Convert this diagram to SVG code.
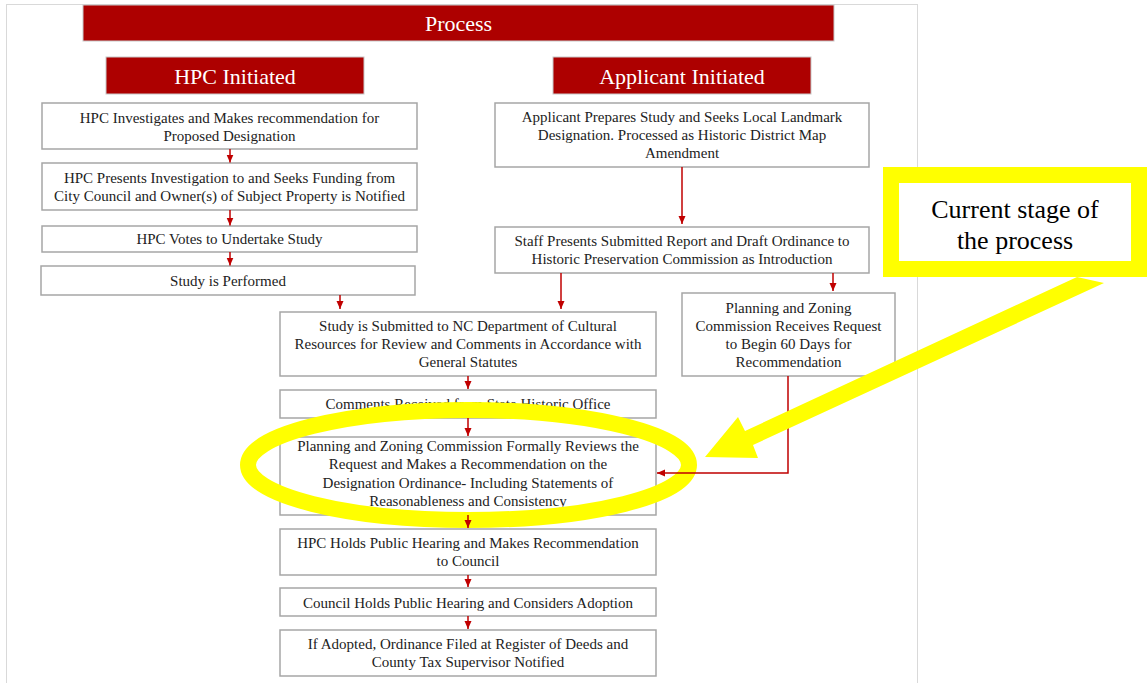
<svg xmlns="http://www.w3.org/2000/svg" width="1147" height="683" viewBox="0 0 1147 683">
<defs>
<style>
.box{fill:#fff;stroke:#a6a6a6;stroke-width:1.5}
.ban{fill:#ad0000;stroke:#c8c8c8;stroke-width:1}
.t{font-family:"Liberation Serif","Times New Roman",serif;font-size:15px;fill:#222;text-anchor:middle}
.bt{font-family:"Liberation Serif","Times New Roman",serif;font-size:22px;fill:#fff;text-anchor:middle}
.ct{font-family:"Liberation Serif","Times New Roman",serif;font-size:26px;fill:#000;text-anchor:middle}
.c{fill:none;stroke:#c00000;stroke-width:1.5}
</style>
<marker id="ah" viewBox="0 0 8 8" refX="8" refY="4" markerWidth="8" markerHeight="8" markerUnits="userSpaceOnUse" orient="auto">
<path d="M0,0.5 L8,4 L0,7.5 Z" fill="#c00000"/>
</marker>
</defs>
<rect x="0" y="0" width="1147" height="683" fill="#fff"/>
<rect x="6.5" y="4.5" width="911" height="700" fill="#fff" stroke="#d9d9d9" stroke-width="1"/>

<g id="banner-process"><rect class="ban" x="83" y="5" width="751" height="36"/><text class="bt" x="458.5" y="31">Process</text></g>
<g id="banner-hpc"><rect class="ban" x="106" y="57" width="258" height="37"/><text class="bt" x="235" y="84">HPC Initiated</text></g>
<g id="banner-applicant"><rect class="ban" x="553" y="57" width="258" height="37"/><text class="bt" x="682" y="84">Applicant Initiated</text></g>

<g id="n1"><rect class="box" x="42" y="103" width="375" height="46"/><text class="t" x="229.5" y="123">HPC Investigates and Makes recommendation for</text><text class="t" x="229.5" y="141">Proposed Designation</text></g>
<g id="n2"><rect class="box" x="42" y="163" width="375" height="47"/><text class="t" x="229.5" y="183">HPC Presents Investigation to and Seeks Funding from</text><text class="t" x="229.5" y="201">City Council and Owner(s) of Subject Property is Notified</text></g>
<g id="n3"><rect class="box" x="42" y="226" width="375" height="26"/><text class="t" x="229.5" y="244">HPC Votes to Undertake Study</text></g>
<g id="n4"><rect class="box" x="41" y="266" width="374" height="29"/><text class="t" x="228" y="286">Study is Performed</text></g>

<g id="a1"><rect class="box" x="495" y="103" width="374" height="64"/><text class="t" x="682" y="122">Applicant Prepares Study and Seeks Local Landmark</text><text class="t" x="682" y="140">Designation. Processed as Historic District Map</text><text class="t" x="682" y="158">Amendment</text></g>
<g id="a2"><rect class="box" x="495" y="227" width="374" height="46"/><text class="t" x="682" y="246">Staff Presents Submitted Report and Draft Ordinance to</text><text class="t" x="682" y="264">Historic Preservation Commission as Introduction</text></g>
<g id="a3"><rect class="box" x="682" y="293" width="213" height="83"/><text class="t" x="788.5" y="313">Planning and Zoning</text><text class="t" x="788.5" y="331">Commission Receives Request</text><text class="t" x="788.5" y="349">to Begin 60 Days for</text><text class="t" x="788.5" y="367">Recommendation</text></g>

<g id="m1"><rect class="box" x="280" y="312" width="376" height="64"/><text class="t" x="468" y="331">Study is Submitted to NC Department of Cultural</text><text class="t" x="468" y="349">Resources for Review and Comments in Accordance with</text><text class="t" x="468" y="367">General Statutes</text></g>
<g id="m2"><rect class="box" x="280" y="390" width="376" height="28"/><text class="t" x="468" y="409">Comments Received from State Historic Office</text></g>
<g id="m3"><rect class="box" x="280" y="437" width="376" height="78"/><text class="t" x="468" y="451">Planning and Zoning Commission Formally Reviews the</text><text class="t" x="468" y="469">Request and Makes a Recommendation on the</text><text class="t" x="468" y="488">Designation Ordinance- Including Statements of</text><text class="t" x="468" y="506">Reasonableness and Consistency</text></g>
<g id="m4"><rect class="box" x="280" y="529" width="376" height="46"/><text class="t" x="468" y="548">HPC Holds Public Hearing and Makes Recommendation</text><text class="t" x="468" y="566">to Council</text></g>
<g id="m5"><rect class="box" x="280" y="588" width="376" height="28"/><text class="t" x="468" y="608">Council Holds Public Hearing and Considers Adoption</text></g>
<g id="m6"><rect class="box" x="280" y="630" width="376" height="46"/><text class="t" x="468" y="649">If Adopted, Ordinance Filed at Register of Deeds and</text><text class="t" x="468" y="667">County Tax Supervisor Notified</text></g>

<g id="highlight-ellipse">
<ellipse cx="468.5" cy="465" rx="220.5" ry="55" fill="none" stroke="#ffff00" stroke-width="16"/>
</g>

<g id="connectors">
<path class="c" marker-end="url(#ah)" d="M230,149 V162.5"/>
<path class="c" marker-end="url(#ah)" d="M230,210 V225.5"/>
<path class="c" marker-end="url(#ah)" d="M230,252 V265.5"/>
<path class="c" marker-end="url(#ah)" d="M340,295 V309"/>
<path class="c" marker-end="url(#ah)" d="M682,167 V224"/>
<path class="c" marker-end="url(#ah)" d="M561,273 V309"/>
<path class="c" marker-end="url(#ah)" d="M833,273 V291"/>
<path class="c" marker-end="url(#ah)" d="M468,376 V389"/>
<path class="c" marker-end="url(#ah)" d="M468,418 V436"/>
<path class="c" marker-end="url(#ah)" d="M468,515 V528"/>
<path class="c" marker-end="url(#ah)" d="M468,575 V587"/>
<path class="c" marker-end="url(#ah)" d="M468,616 V629"/>
<path class="c" marker-end="url(#ah)" d="M788,376 V473 H657"/>
</g>

<g id="highlight-arrow">
<polygon fill="#ffff00" points="1077,277 745,431 738,417 705,457 758,458 753,445 1104,283"/>
</g>

<g id="callout">
<rect x="891" y="175" width="248" height="94" fill="#fff" stroke="#ffff00" stroke-width="16"/>
<text class="ct" x="1015" y="218">Current stage of</text>
<text class="ct" x="1015" y="249">the process</text>
</g>
</svg>
